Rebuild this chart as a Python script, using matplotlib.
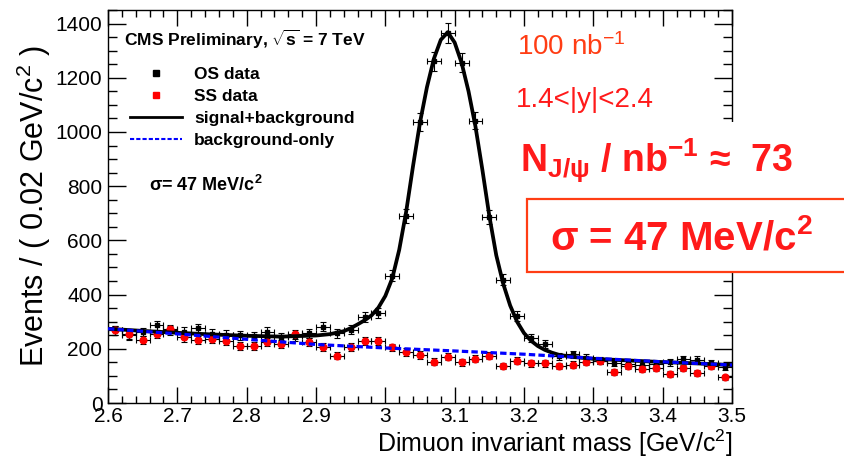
#!/usr/bin/env python3
# -*- coding: utf-8 -*-
"""CMS J/psi dimuon mass peak, 1.4<|y|<2.4, OS vs SS data with fit curves."""
import numpy as np
import matplotlib
matplotlib.use("Agg")
import matplotlib.pyplot as plt
from matplotlib.lines import Line2D
from matplotlib.patches import Rectangle
from matplotlib.ticker import MultipleLocator

plt.rcParams["font.family"] = ["Liberation Sans", "DejaVu Sans"]
plt.rcParams["mathtext.fontset"] = "custom"
plt.rcParams["mathtext.rm"] = "Liberation Sans"
plt.rcParams["mathtext.it"] = "Liberation Sans:italic"
plt.rcParams["mathtext.bf"] = "Liberation Sans:bold"

# bin centres (0.02 GeV bins, 2.6 - 3.5)
mass = [2.61, 2.63, 2.65, 2.67, 2.69, 2.71, 2.73, 2.75, 2.77, 2.79,
        2.81, 2.83, 2.85, 2.87, 2.89, 2.91, 2.93, 2.95, 2.97, 2.99,
        3.01, 3.03, 3.05, 3.07, 3.09, 3.11, 3.13, 3.15, 3.17, 3.19,
        3.21, 3.23, 3.25, 3.27, 3.29, 3.31, 3.33, 3.35, 3.37, 3.39,
        3.41, 3.43, 3.45, 3.47, 3.49]
os_counts = [269, 250, 262, 287, 268, 263, 275, 256, 252, 250,
             247, 263, 244, 246, 257, 281, 257, 271, 318, 333,
             470, 690, 1036, 1260, 1366, 1255, 1042, 686, 455, 321,
             239, 217, 172, 180, 167, 155, 148, 143, 142, 144,
             150, 161, 160, 146, 132]
ss_counts = [268, 253, 232, 254, 273, 242, 232, 235, 228, 211,
             211, 226, 216, 253, 224, 207, 174, 207, 228, 228,
             205, 189, 177, 152, 171, 150, 163, 175, 136, 156,
             146, 146, 136, 142, 152, 156, 115, 136, 125, 130,
             107, 128, 112, 137, 95]

# fit curves
sb_mass = [2.60, 2.65, 2.70, 2.75, 2.80, 2.85, 2.90, 2.92, 2.94, 2.95,
           2.96, 2.97, 2.98, 2.99, 3.00, 3.01, 3.02, 3.03, 3.04, 3.05,
           3.06, 3.07, 3.08, 3.09, 3.10, 3.11, 3.12, 3.13, 3.14, 3.15,
           3.16, 3.17, 3.18, 3.19, 3.20, 3.21, 3.22, 3.23, 3.24, 3.25,
           3.27, 3.30, 3.35, 3.40, 3.45, 3.50]
sb_vals = [274, 266, 259, 253, 248, 245, 249, 254, 265, 276,
           290, 305, 323, 352, 395, 460, 565, 705, 875, 1035,
           1165, 1270, 1340, 1368, 1330, 1255, 1150, 1020, 860, 690,
           545, 440, 360, 300, 258, 230, 210, 196, 186, 178,
           170, 163, 157, 151, 146, 140]
bkg_mass = [2.6, 2.7, 2.8, 2.9, 3.0, 3.1, 3.2, 3.3, 3.4, 3.5]
bkg_vals = [274, 255, 235, 216, 203, 192, 180, 165, 152, 140]

RED = "#ff1a1a"
ORANGE = "#ff3d14"

fig = plt.figure(figsize=(8.45, 4.65), dpi=100)
ax = fig.add_axes([108 / 845, 62 / 465, 624 / 845, 393 / 465])

m = np.array(mass)
os_c = np.array(os_counts, float)
ss_c = np.array(ss_counts, float)
ax.errorbar(m, os_c, yerr=np.sqrt(os_c), xerr=0.01, fmt="s", ms=3.5, c="black",
            ecolor="black", elinewidth=0.8, capsize=2, capthick=0.8, zorder=3)
ax.errorbar(m, ss_c, yerr=np.sqrt(ss_c), xerr=0.01, fmt="o", ms=4.8, c="red",
            ecolor="black", elinewidth=0.8, capsize=2, capthick=0.8, zorder=3)
ax.plot(sb_mass, sb_vals, "-", c="black", lw=2.7, zorder=4)
ax.plot(bkg_mass, bkg_vals, c="#0000ff", lw=2.3, ls=(0, (2, 1)), zorder=5)

ax.set_xlim(2.6, 3.5)
ax.set_ylim(0, 1450)
ax.xaxis.set_minor_locator(MultipleLocator(0.02))
ax.yaxis.set_major_locator(MultipleLocator(200))
ax.yaxis.set_minor_locator(MultipleLocator(50))
ax.set_xticks(np.arange(2.6, 3.51, 0.1))
ax.set_xticklabels(["2.6", "2.7", "2.8", "2.9", "3", "3.1", "3.2", "3.3", "3.4", "3.5"])
ax.tick_params(which="both", direction="in", top=True, right=True, width=1)
ax.tick_params(axis="y", which="major", length=13, labelsize=15, pad=4)
ax.tick_params(axis="y", which="minor", length=6.5)
ax.tick_params(axis="x", which="major", length=11.5, labelsize=15, pad=3)
ax.tick_params(axis="x", which="minor", length=5)
for s in ax.spines.values():
    s.set_linewidth(1)
ax.set_ylabel("Events / ( 0.02 GeV/c$^{2}$ )", fontsize=22, labelpad=2)
ax.set_xlabel("Dimuon invariant mass [GeV/c$^{2}$]", fontsize=18, loc="right", labelpad=1)

ax.text(0.025, 0.925, r"CMS Preliminary, $\sqrt{\mathbf{s}}$ = 7 TeV", transform=ax.transAxes,
        fontsize=12.5, fontweight="bold", va="center")
handles = [Line2D([], [], ls="none", marker="s", ms=4.5, c="black"),
           Line2D([], [], ls="none", marker="s", ms=4.5, c="red"),
           Line2D([], [], c="black", lw=2),
           Line2D([], [], c="#0000ff", lw=1.5, ls=(0, (2, 1)))]
labels = ["OS data", "SS data", "signal+background", "background-only"]
ax.legend(handles, labels, loc="upper left", bbox_to_anchor=(0.01, 0.895),
          frameon=False, handlelength=3.0, handletextpad=0.7, labelspacing=0.4,
          prop={"weight": "bold", "size": 12.5})
ax.text(0.065, 0.555, "σ= 47 MeV/c$^{\\mathbf{2}}$", transform=ax.transAxes,
        fontsize=13, fontweight="bold", va="center")

# white patches hiding the right frame behind the big annotations
fig.add_artist(Rectangle((515 / 845, 1 - 199 / 465), 330 / 845, 77 / 465,
                         transform=fig.transFigure, facecolor="white",
                         edgecolor="none", zorder=3))
fig.add_artist(Rectangle((527 / 845, 1 - 272 / 465), 330 / 845, 73 / 465,
                         transform=fig.transFigure, facecolor="white",
                         edgecolor=ORANGE, lw=1.6, zorder=3))

fig.text(517 / 845, 1 - 47 / 465, "100 nb$^{-1}$", color=ORANGE, fontsize=20, va="center")
fig.text(516 / 845, 1 - 100 / 465, "1.4<|y|<2.4", color=RED, fontsize=20, va="center")
fig.text(520 / 845, 1 - 161 / 465, r"N$_{\mathbf{J/\psi}}$ / nb$^{\mathbf{-1}}$ ≈  73",
         color=RED, fontsize=27, fontweight="bold", va="center", zorder=4)
fig.text(550 / 845, 1 - 238 / 465, "σ = 47 MeV/c$^{\\mathbf{2}}$", color=RED, fontsize=29,
         fontweight="bold", va="center", ha="left", zorder=4)

fig.savefig("out.png", dpi=100)
